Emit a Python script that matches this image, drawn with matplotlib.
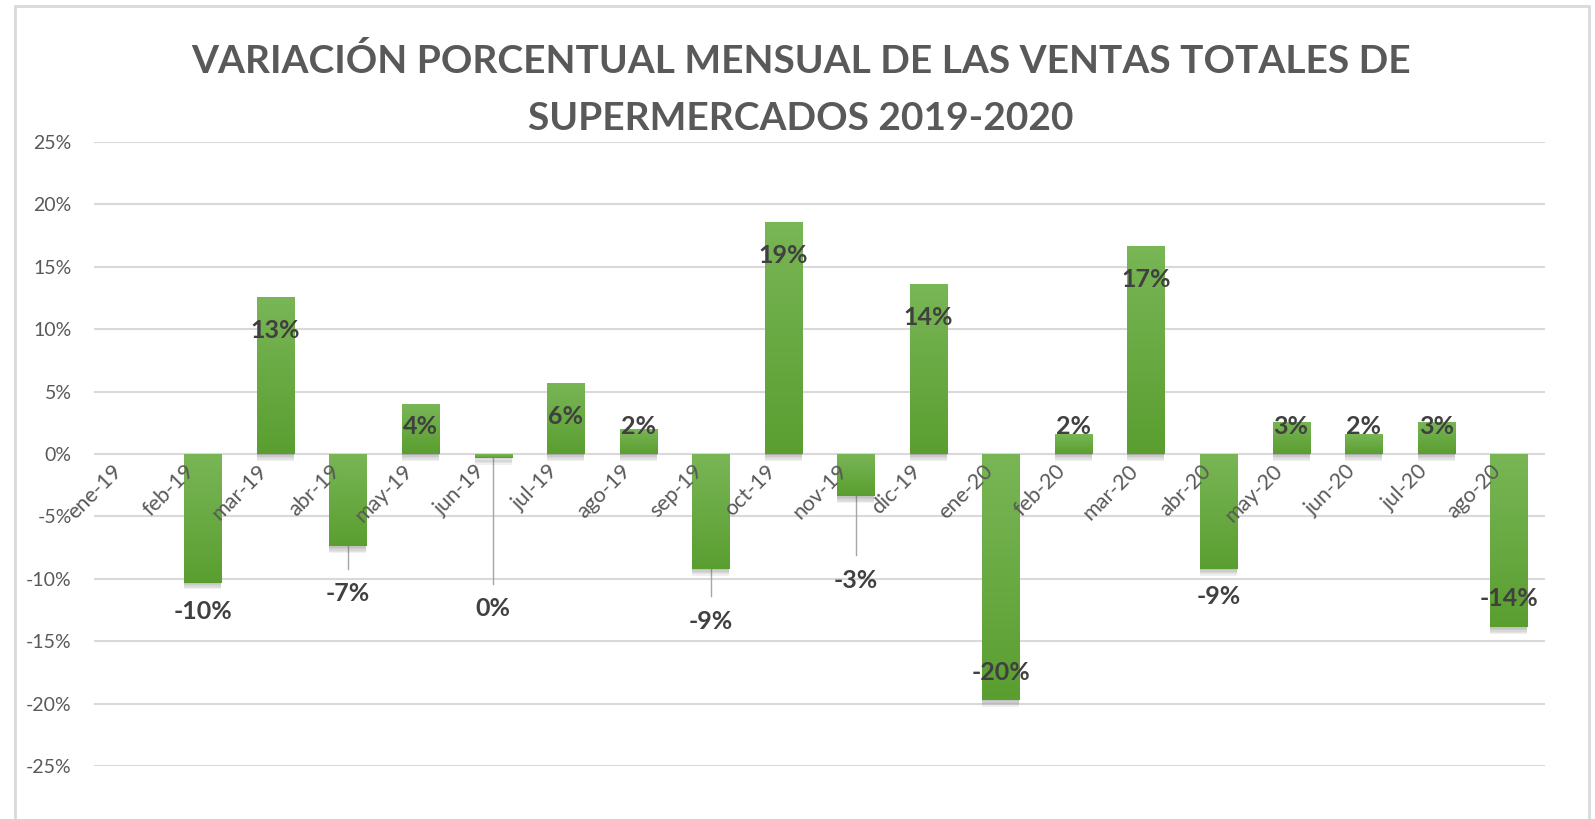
import numpy as np
import matplotlib
matplotlib.use("Agg")
import matplotlib.pyplot as plt
import matplotlib.patheffects as pe
from matplotlib.patches import Rectangle
from matplotlib.colors import LinearSegmentedColormap
from matplotlib.transforms import ScaledTranslation

plt.rcParams['font.family'] = ['Lato', 'DejaVu Sans']
plt.rcParams['axes.unicode_minus'] = False

months = ['ene-19', 'feb-19', 'mar-19', 'abr-19', 'may-19', 'jun-19', 'jul-19',
          'ago-19', 'sep-19', 'oct-19', 'nov-19', 'dic-19', 'ene-20', 'feb-20',
          'mar-20', 'abr-20', 'may-20', 'jun-20', 'jul-20', 'ago-20']
# monthly % change, ene-19 has no value
variation = [np.nan, -10.3, 12.6, -7.4, 4.0, -0.3, 5.7, 2.0, -9.2, 18.6, -3.4,
             13.6, -19.7, 1.6, 16.7, -9.2, 2.6, 1.6, 2.6, -13.9]
# where each negative label sits relative to the bar end (percentage points)
neg_label_shift = [0, -2.3, 0, -3.8, 0, -12.1, 0, 0, -4.2, 0, -6.7,
                   0, 2.2, 0, 0, -2.2, 0, 0, 0, 2.3]
y_ticks = [-25, -20, -15, -10, -5, 0, 5, 10, 15, 20, 25]

title = 'VARIACIÓN PORCENTUAL MENSUAL DE LAS VENTAS TOTALES DE\nSUPERMERCADOS 2019-2020'

gray_txt = '#595959'
label_txt = '#404040'
grid_col = '#d9d9d9'
green = LinearSegmentedColormap.from_list('grn', ['#79b656', '#5a9e30'])

fig = plt.figure(figsize=(15.95, 8.19), dpi=100)
ax = fig.add_axes([94 / 1595, 1 - 766 / 819, (1545 - 94) / 1595, (766 - 142) / 819])

x = np.arange(len(months))
vals = np.array(variation)

# soft shadow under the bars
shadow = [pe.SimplePatchShadow(offset=(0, -k), shadow_rgbFace='#606060', alpha=0.09)
          for k in (1, 2, 3, 4, 5)]
bars = ax.bar(x, np.nan_to_num(vals), width=0.51, color='#6aab42', zorder=1,
              path_effects=shadow + [pe.Normal()])

# vertical gradient inside each bar
grad = np.linspace(0, 1, 256).reshape(-1, 1)
for b in bars:
    h = b.get_height()
    if h == 0:
        continue
    x0, x1 = b.get_x(), b.get_x() + b.get_width()
    top, bot = max(0, h), min(0, h)
    im = ax.imshow(grad, cmap=green, aspect='auto', extent=[x0, x1, bot, top],
                   origin='upper', zorder=1.1)
    im.set_clip_path(b)

# gridlines drawn by hand so they stay under the bars
for t in y_ticks:
    ax.axhline(t, color=grid_col, lw=1.5, zorder=0)

# data labels
for i, v in enumerate(vals):
    if np.isnan(v):
        continue
    txt = f'{int(round(v))}%'
    if v >= 0:
        ly = max(v - 2.7, 2.2)
    else:
        ly = v + neg_label_shift[i]
        if neg_label_shift[i] < -3:
            ax.plot([x[i], x[i]], [v, ly + 2.0], color='#a6a6a6', lw=1, zorder=0.8)
    ax.text(x[i], ly, txt, ha='center', va='center', fontsize=18, fontweight='bold',
            color=label_txt, zorder=3)

ax.set_xlim(-0.5, len(months) - 0.5)
ax.set_ylim(-25, 25)
ax.set_yticks(y_ticks)
ax.set_yticklabels([f'{t}%' for t in y_ticks])
ax.set_axisbelow(False)
for s in ['top', 'right', 'left', 'bottom']:
    ax.spines[s].set_visible(False)
ax.spines['bottom'].set_position(('data', 0))
ax.set_xticks(x)
ax.set_xticklabels(months, rotation=45, ha='right', va='center', rotation_mode='anchor')
ax.tick_params(axis='x', length=0, pad=10, labelsize=15.5, labelcolor=gray_txt)
ax.tick_params(axis='y', length=0, pad=16, labelsize=14, labelcolor=gray_txt)
shift = ScaledTranslation(-8 / 72, 0, fig.dpi_scale_trans)
for lab in ax.get_xticklabels():
    lab.set_transform(lab.get_transform() + shift)

fig.text(0.502, 0.891, title, ha='center', va='center', fontsize=28,
         fontweight='bold', color=gray_txt, linespacing=1.75)

# chart frame
fig.patches.append(Rectangle((15 / 1595, -0.02), (1589 - 15) / 1595, 1.02 - 6 / 819,
                             transform=fig.transFigure, fill=False,
                             edgecolor='#d9d9d9', lw=2))

fig.savefig('out.png', dpi=100)
